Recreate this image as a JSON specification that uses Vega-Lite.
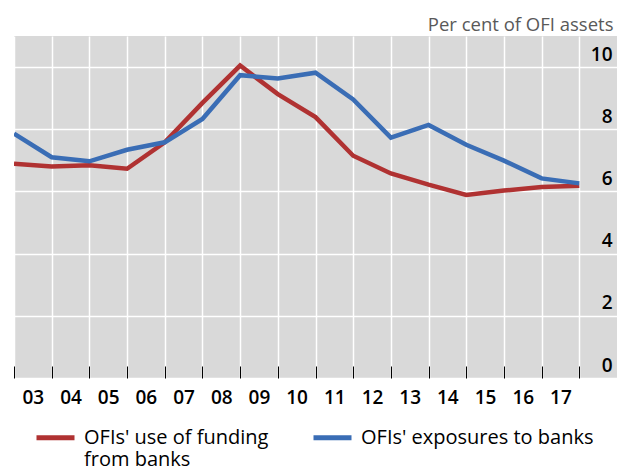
{
  "$schema": "https://vega.github.io/schema/vega-lite/v6.json",
  "width": 603,
  "height": 342,
  "autosize": "none",
  "padding": {"left": 14, "top": 36, "right": 0, "bottom": 89},
  "background": "white",
  "config": {
    "view": {"fill": "#D9D9D9", "stroke": null},
    "font": "Open Sans"
  },
  "data": {
    "values": [
      {"year": 2003, "series": "OFIs' use of funding from banks", "value": 6.89},
      {"year": 2004, "series": "OFIs' use of funding from banks", "value": 6.80},
      {"year": 2005, "series": "OFIs' use of funding from banks", "value": 6.84},
      {"year": 2006, "series": "OFIs' use of funding from banks", "value": 6.73},
      {"year": 2007, "series": "OFIs' use of funding from banks", "value": 7.58},
      {"year": 2008, "series": "OFIs' use of funding from banks", "value": 8.85},
      {"year": 2009, "series": "OFIs' use of funding from banks", "value": 10.05},
      {"year": 2010, "series": "OFIs' use of funding from banks", "value": 9.13},
      {"year": 2011, "series": "OFIs' use of funding from banks", "value": 8.39},
      {"year": 2012, "series": "OFIs' use of funding from banks", "value": 7.15},
      {"year": 2013, "series": "OFIs' use of funding from banks", "value": 6.58},
      {"year": 2014, "series": "OFIs' use of funding from banks", "value": 6.22},
      {"year": 2015, "series": "OFIs' use of funding from banks", "value": 5.89},
      {"year": 2016, "series": "OFIs' use of funding from banks", "value": 6.03},
      {"year": 2017, "series": "OFIs' use of funding from banks", "value": 6.14},
      {"year": 2018, "series": "OFIs' use of funding from banks", "value": 6.18},
      {"year": 2003, "series": "OFIs' exposures to banks", "value": 7.86},
      {"year": 2004, "series": "OFIs' exposures to banks", "value": 7.10},
      {"year": 2005, "series": "OFIs' exposures to banks", "value": 6.97},
      {"year": 2006, "series": "OFIs' exposures to banks", "value": 7.34},
      {"year": 2007, "series": "OFIs' exposures to banks", "value": 7.58},
      {"year": 2008, "series": "OFIs' exposures to banks", "value": 8.33},
      {"year": 2009, "series": "OFIs' exposures to banks", "value": 9.74},
      {"year": 2010, "series": "OFIs' exposures to banks", "value": 9.63},
      {"year": 2011, "series": "OFIs' exposures to banks", "value": 9.82},
      {"year": 2012, "series": "OFIs' exposures to banks", "value": 8.96},
      {"year": 2013, "series": "OFIs' exposures to banks", "value": 7.73},
      {"year": 2014, "series": "OFIs' exposures to banks", "value": 8.14},
      {"year": 2015, "series": "OFIs' exposures to banks", "value": 7.50},
      {"year": 2016, "series": "OFIs' exposures to banks", "value": 6.99},
      {"year": 2017, "series": "OFIs' exposures to banks", "value": 6.42},
      {"year": 2018, "series": "OFIs' exposures to banks", "value": 6.26}
    ]
  },
  "mark": {"type": "line", "strokeWidth": 4.5, "clip": true},
  "encoding": {
    "x": {
      "field": "year",
      "type": "quantitative",
      "scale": {"domain": [2003, 2019], "nice": false, "zero": false},
      "axis": {
        "title": null,
        "offset": -12,
        "values": [2003, 2004, 2005, 2006, 2007, 2008, 2009, 2010, 2011, 2012, 2013, 2014, 2015, 2016, 2017, 2018],
        "labelExpr": "datum.value < 2018 ? format(datum.value % 100, '02d') : ''",
        "labelOffset": 18.8,
        "labelFontSize": 19,
        "labelFontWeight": 600,
        "labelColor": "black",
        "labelPadding": 10,
        "labelFlush": false,
        "labelOverlap": false,
        "domain": false,
        "grid": true,
        "gridColor": "white",
        "gridWidth": 1.5,
        "ticks": true,
        "tickColor": "black",
        "tickWidth": 1,
        "tickSize": 12
      }
    },
    "y": {
      "field": "value",
      "type": "quantitative",
      "scale": {"domain": [0, 11], "nice": false},
      "axis": {
        "orient": "right",
        "values": [0, 2, 4, 6, 8, 10],
        "title": "Per cent of OFI assets",
        "titleAngle": 0,
        "titleAlign": "right",
        "titleBaseline": "alphabetic",
        "titleX": -4,
        "titleY": -6,
        "titleFontSize": 18.5,
        "titleFontWeight": "normal",
        "titleColor": "#595959",
        "labelAlign": "right",
        "labelBaseline": "alphabetic",
        "labelPadding": -5,
        "labelOffset": -7,
        "labelFontSize": 19,
        "labelColor": "black",
        "labelFontWeight": 600,
        "domain": false,
        "ticks": false,
        "grid": true,
        "gridColor": "white",
        "gridWidth": 1.5
      }
    },
    "color": {
      "field": "series",
      "type": "nominal",
      "scale": {
        "domain": ["OFIs' use of funding from banks", "OFIs' exposures to banks"],
        "range": ["#B03232", "#3A6DB5"]
      },
      "legend": {
        "title": null,
        "orient": "none",
        "legendX": 20,
        "legendY": 380,
        "direction": "horizontal",
        "columns": 2,
        "columnPadding": 34,
        "symbolType": "stroke",
        "symbolSize": 1444,
        "symbolStrokeWidth": 5,
        "labelFontSize": 20,
        "labelColor": "black",
        "labelOffset": 7,
        "labelLimit": 400,
        "labelBaseline": "middle",
        "labelExpr": "datum.label == \"OFIs' use of funding from banks\" ? [\"OFIs' use of funding\", 'from banks'] : [datum.label, '']"
      }
    }
  }
}
